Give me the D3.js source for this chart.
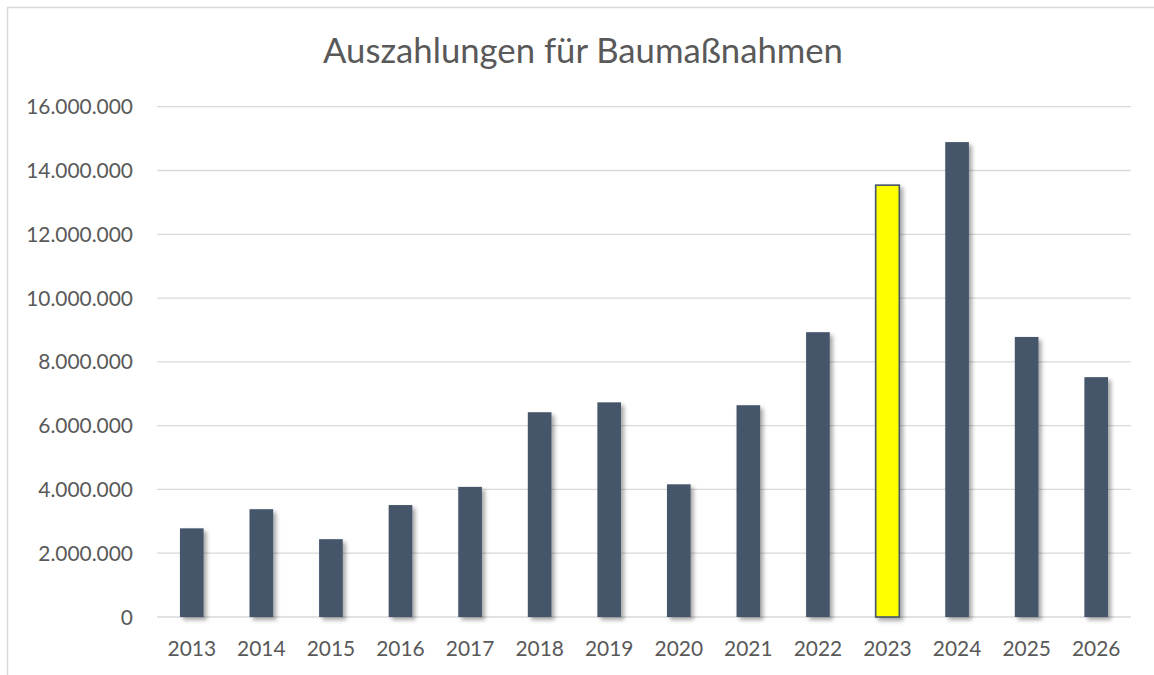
<!DOCTYPE html>
<html>
<head>
<meta charset="utf-8">
<script src="https://cdn.jsdelivr.net/npm/d3@7"></script>
<style>
  body { margin: 0; background: #fff; }
  svg text { font-family: Lato, "Open Sans", sans-serif; fill: #595959; }
</style>
</head>
<body>
<svg id="chart"></svg>
<script>
var width = 1154,
    height = 675;

// data
var years = ["2013", "2014", "2015", "2016", "2017", "2018", "2019",
             "2020", "2021", "2022", "2023", "2024", "2025", "2026"];
var payments = [2780000, 3380000, 2440000, 3510000, 4080000, 6420000, 6730000,
                4160000, 6640000, 8930000, 13540000, 14890000, 8780000, 7520000];
var highlightYear = "2023";
var yTicks = [0, 2000000, 4000000, 6000000, 8000000, 10000000, 12000000, 14000000, 16000000];
var title = "Auszahlungen für Baumaßnahmen";

var de = d3.formatLocale({decimal: ",", thousands: ".", grouping: [3], currency: ["", " €"]});
var fmt = de.format(",d");

var svg = d3.select("#chart")
    .attr("width", width)
    .attr("height", height);

// shadow like the office charts
var defs = svg.append("defs");
defs.append("filter")
    .attr("id", "shadow")
    .attr("x", "-30%").attr("y", "-5%")
    .attr("width", "170%").attr("height", "115%")
  .append("feDropShadow")
    .attr("dx", 3).attr("dy", 3)
    .attr("stdDeviation", 2.2)
    .attr("flood-color", "#000")
    .attr("flood-opacity", 0.35);

// chart border (cut off at right and bottom)
svg.append("rect")
    .attr("x", 7.5).attr("y", 7.5)
    .attr("width", 1160).attr("height", 700)
    .attr("fill", "none")
    .attr("stroke", "#d9d9d9")
    .attr("stroke-width", 1.5);

var x = d3.scaleBand()
    .domain(years)
    .range([157, 1131])
    .paddingInner(0.66)
    .paddingOuter(0.33);

var y = d3.scaleLinear()
    .domain([0, 16000000])
    .range([617, 106.7]);

// gridlines
svg.append("g")
  .selectAll("line")
  .data(yTicks)
  .join("line")
    .attr("x1", 157).attr("x2", 1131)
    .attr("y1", function(d) { return y(d); })
    .attr("y2", function(d) { return y(d); })
    .attr("stroke", "#d9d9d9")
    .attr("stroke-width", 1.3);

// y labels
var yLabels = svg.append("g")
  .selectAll("text")
  .data(yTicks)
  .join("text")
    .attr("x", 133)
    .attr("y", function(d) { return y(d); })
    .attr("dy", "0.36em")
    .attr("text-anchor", "end")
    .style("font-size", "20px")
    .text(function(d) { return fmt(d); });

// fit label size to the reference width of "16.000.000" (~107px)
var widest = yLabels.filter(function(d) { return d === 16000000; }).node();
var labelSize = 20 * 107 / widest.getComputedTextLength();
yLabels.style("font-size", labelSize + "px");

// bars
svg.append("g")
  .selectAll("rect")
  .data(years.map(function(yr, i) { return {year: yr, value: payments[i]}; }))
  .join("rect")
    .attr("x", function(d) { return x(d.year); })
    .attr("y", function(d) { return y(d.value); })
    .attr("width", x.bandwidth())
    .attr("height", function(d) { return y(0) - y(d.value); })
    .attr("fill", function(d) { return d.year === highlightYear ? "#ffff00" : "#44546a"; })
    .attr("stroke", function(d) { return d.year === highlightYear ? "#44546a" : "none"; })
    .attr("stroke-width", 1.6)
    .attr("filter", "url(#shadow)");

// x labels
svg.append("g")
  .selectAll("text")
  .data(years)
  .join("text")
    .attr("x", function(d) { return x(d) + x.bandwidth() / 2; })
    .attr("y", 656)
    .attr("text-anchor", "middle")
    .style("font-size", labelSize + "px")
    .text(function(d) { return d; });

// title, centered in the chart area
var t = svg.append("text")
    .attr("x", 583)
    .attr("y", 63)
    .attr("text-anchor", "middle")
    .style("font-size", "28px")
    .text(title);
t.style("font-size", 28 * 520 / t.node().getComputedTextLength() + "px");
</script>
</body>
</html>
